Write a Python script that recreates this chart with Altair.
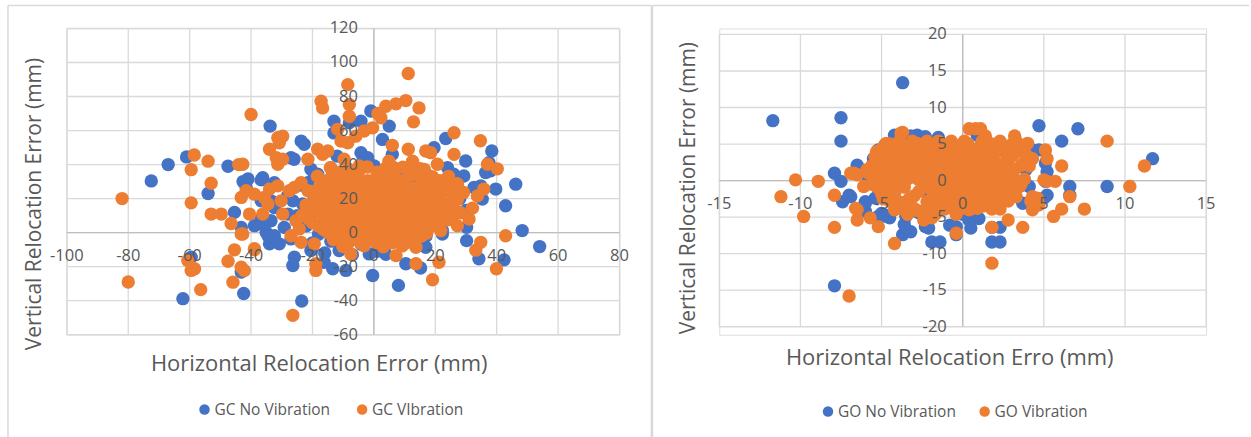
import altair as alt
import pandas as pd

FONT = "Open Sans"
TXT = "#595959"
GRID = "#d9d9d9"
AXIS = "#bfbfbf"
BLUE = "#4472C4"
ORANGE = "#ED7D31"
DOT = 180

# ---------------- GC panel data (mm) ----------------
gc_no_vibration = [
    (-72.5, 30.4), (-67, 40), (-61, 44.5), (-54, 23), (-47.5, 39), (-42.6, 30), (-41.6, 26.5),
    (-45.4, 11.9), (-43.2, 3.1), (-38.9, 4.1), (-36.7, 31), (-33.8, 62.6), (-23.7, 53.8),
    (-22.7, 51.9), (-27, 44), (-26, 43.1), (-20.5, 37.3), (-19.4, 33.3), (-18.3, 34.3),
    (-15, 30.4), (-21.5, 29.4), (-17.2, 26.5), (-41, 31.5), (-36.2, 32.3), (-32.4, 29.4),
    (-36.7, 18.7), (-33.5, 18.7), (-32.4, 14.8), (-26.4, 18.7), (-23.2, 16.8), (-19.4, 20.7),
    (-36.7, 8), (-33.5, 7), (-36.2, 5.1), (-35.1, 0.2), (-29.2, 3.1), (-28, 10.9), (-34, -6.6),
    (-30.8, -6.6), (-32.4, -1.8), (-34.5, -1.8), (-27, -3.7), (-20.5, -10.5), (-25.9, -14.4),
    (-26.4, -19.3), (-13.4, -21.2), (-9.1, -22.2), (-0.4, -25.2), (-23.5, -40.2), (-42.4, -35.8),
    (-62.2, -38.8), (-59.5, -14.4), (-43.2, -23.2), (-16.2, -17.4), (-11.3, -10.5), (-1.5, -12.5),
    (3.9, -12.7), (10.4, -18.3), (15.2, -20.8), (8, -31), (16.9, -8.6), (0.1, -4.7), (1.7, -6.6),
    (4.5, -3.7), (3.9, 0.2), (5.5, 4.1), (22.3, -0.8), (22.3, 1.2), (19.1, 10.9), (17.5, 14.8),
    (22.9, 24.6), (12, 26.5), (15.3, 28.5), (34.8, 27.5), (39.7, 25.6), (33.7, 25.6), (35.3, 19.7),
    (42.9, 15.8), (46.2, 28.5), (48.3, 1.2), (54, -8.2), (34.2, -15.4), (42.4, -16), (30.2, -4.7),
    (30.2, 3.1), (24, 38.2), (26, 34.3), (29.3, 33.3), (32.6, 26.5), (36.4, 35.3), (38, 36.3),
    (37.5, 41.1), (29.9, 42.1), (38.4, 48), (23.4, 55.3), (19.6, 49.9), (5, 62.6), (2.8, 54.8),
    (0.1, 39.2), (-13, 65.5), (-8, 64.5), (-4.2, 65.5), (-1, 71.5), (-13, 58.6), (-4.2, 47),
    (-3.6, 42.1),
    (-12, 45), (-2, 44), (6, 46), (-8, 35), (2, 34), (8, 36), (14, 33), (-24, 28), (-5, 29),
    (4, 27), (13, 29), (25, 27), (-28, 22), (-14, 21), (0, 23), (10, 21), (20, 22), (28, 20),
    (-20, 16), (-8, 15), (5, 17), (15, 16), (24, 15), (30, 13), (-25, 10), (-12, 9), (-3, 11),
    (8, 10), (18, 9), (26, 11), (-22, 4), (-16, 5), (-6, 3), (3, 5), (12, 4), (22, 6), (-18, -1),
    (-10, -2), (0, -1), (7, -1), (17, -2), (-20, -6), (-14, -5), (-4, -7), (5, -6), (11, -5),
    (-16, -12), (-7, -13), (1, -11),
]

gc_vibration = [
    (-82, 20), (-80, -29), (-59.5, 17.5), (-59.5, 37), (-58.5, 45.6), (-54, 42), (-53, 29),
    (-53, 10.9), (-49.7, 10.9), (-46.5, 5.4), (-43.2, -0.8), (-44, 40), (-42.7, 40.2), (-40, 69.4),
    (-43.2, 20.7), (-41.6, 24.6), (-40.5, 10.9), (-38.9, 22.6), (-35.7, 20.7), (-34.5, 16.8),
    (-34, 25.6), (-30.2, 18.7), (-29.7, 10.9), (-36.2, 10.9), (-31.3, 55.8), (-29.7, 56.7),
    (-30.8, 52.8), (-34, 49), (-31.8, 44), (-29.7, 43.1), (-31.3, 40.2), (-21.5, 43.1), (-18.3, 49),
    (-15, 48), (-16.7, 46), (-17.2, 77.2), (-16.7, 73.3), (-8.5, 87), (-8, 75.3), (-8, 68.4),
    (-11.8, 60.7), (-5.9, 56.7), (-3.2, 59.7), (-0.4, 61.6), (-14, 38.2), (-9.7, 43.1),
    (-10.7, 53.8), (-8.5, 52.8), (-10.7, 29.4), (-6.9, 32.3), (-4.8, 39.2), (-14, 32.3),
    (-13.4, 26.5), (-31.3, 27.5), (-25.9, 26.5), (-27.5, 24.6), (-23.7, 29.4), (-21.5, 24.6),
    (-25.4, 7), (-24.3, 2.2), (-22.7, 10.9), (-27, -1.8), (-23.7, -5.7), (-19.4, -6.6),
    (-38.9, -9.5), (-42.7, -0.8), (-45.4, -10.1), (-47.5, -16.8), (-38.9, -10.1), (-43.2, -20.3),
    (-42.2, -22.2), (-45.9, -29.1), (-60.6, -16.4), (-58.4, -21.2), (-59.5, -22.2), (-56.4, -33.5),
    (-26.4, -48.6), (-18.9, -22.2), (-18.9, -18.3), (-8.5, -6.6), (-7.5, -12.5), (7.2, -13.5),
    (13.7, -18.3), (13.7, -8.6), (21.2, -17.4), (19.1, -27.7), (39.9, -21.2), (42.9, -1.8),
    (33.2, -10.3), (34.8, -5.7), (31, 8), (32.1, 14.4), (27.2, 4.1), (25, 9), (25, 16.8),
    (21.8, 1.2), (22.3, 10.9), (19.6, 22.6), (21.2, 24.6), (16.9, 22.6), (18.5, 18.7),
    (33.7, 21.6), (35.8, 25.6), (12.6, 14.8), (13.1, 9), (11, 5.1), (11.5, -0.8), (9.8, -4.7),
    (11.2, 93.5), (10.4, 77.6), (7.2, 75.7), (3.9, 74.3), (14.7, 73.3), (12.9, 65.1), (1.3, 70),
    (2.3, 67.5), (6, 51.3), (26.1, 58.7), (34.7, 54), (37, 40.2), (40.2, 37.5), (26.1, 46),
    (11.2, 49), (16.9, 48), (18.5, 47), (20.7, 40.2), (12.6, 42), (27.2, 28.5), (16.4, 37.2),
    (18, 33.3), (4.9, 42), (6.5, 38.2),
    # dense centre
    (-14.2, 38.1), (-8.3, 37.4), (-2.1, 38.6), (3.8, 37.9), (9.4, 38.4), (15.1, 37.6),
    (-18.4, 33.2), (-11.3, 33.8), (-6.2, 32.9), (1.1, 33.4), (6.3, 32.6), (12.2, 33.7),
    (19.1, 32.8), (24.3, 33.1), (-16.1, 28.3), (-10.2, 27.6), (-4.3, 28.4), (0.2, 27.9),
    (5.2, 28.6), (10.1, 27.7), (16.3, 28.2), (21.2, 27.4), (27.1, 28.8), (-20.2, 24.1),
    (-13.1, 23.6), (-7.2, 24.4), (-1.1, 23.8), (3.3, 24.6), (8.2, 23.5), (13.1, 24.3),
    (18.2, 23.7), (23.3, 24.4), (29.2, 23.6), (-17.3, 20.2), (-12.1, 19.6), (-6.3, 20.4),
    (-2.2, 19.8), (2.1, 20.6), (7.3, 19.7), (11.2, 20.3), (15.1, 19.4), (20.3, 20.1), (27.2, 19.5),
    (-22.1, 16.3), (-15.2, 15.7), (-9.1, 16.4), (-4.2, 15.6), (0.3, 16.2), (5.1, 15.8), (9.2, 16.5),
    (14.3, 15.6), (18.1, 16.2), (23.2, 15.7), (-19.2, 12.1), (-13.3, 11.6), (-8.2, 12.4),
    (-3.1, 11.7), (2.2, 12.3), (6.1, 11.8), (10.3, 12.2), (16.2, 11.5), (20.1, 12.4), (28.2, 11.7),
    (-21.3, 8.2), (-16.1, 7.7), (-10.2, 8.4), (-5.1, 7.6), (-1.2, 8.3), (3.1, 7.8), (8.2, 8.1),
    (12.1, 7.5), (18.2, 8.3), (24.1, 7.6), (-18.2, 4.1), (-12.1, 3.7), (-7.3, 4.4), (-2.1, 3.6),
    (2.2, 4.2), (6.3, 3.8), (10.1, 4.3), (15.2, 3.6), (19.1, 4.2), (-15.1, 0.2), (-9.2, -0.3),
    (-4.1, 0.4), (1.2, -0.2), (5.1, 0.3), (9.3, -0.4), (14.1, 0.2), (17.2, -0.3), (-13.2, -4.1),
    (-6.1, -3.7), (-1.2, -4.3), (4.1, -3.8), (8.2, -4.2), (12.3, -3.6), (-10.1, -8.2),
    (-3.2, -7.7), (3.1, -8.3), (9.2, -7.8),
    (-11, 35.5), (-5, 35.5), (1, 35.5), (6.5, 35.5), (12, 35.5),
    (-14.5, 30.5), (-8.5, 30.5), (-2, 30.5), (3.5, 30.5), (9, 30.5), (15.5, 30.5), (21.5, 30.5),
    (-18, 26), (-12.5, 26), (-6, 26), (-2.5, 26), (2.5, 26), (7.5, 26), (13, 26), (19, 26), (24.5, 26),
    (-15.5, 22), (-10, 22), (-4, 22), (0.5, 22), (5.5, 22), (10.5, 22), (16, 22), (21.5, 22), (26, 22),
    (-19.5, 18), (-14, 18), (-7.5, 18), (-1, 18), (3.5, 18), (8.5, 18), (13, 18), (17.5, 18),
    (22, 18), (25.5, 18),
    (-17, 14), (-11, 14), (-6, 14), (-1.5, 14), (3.5, 14), (8, 14), (12, 14), (16.5, 14),
    (21.5, 14), (26, 14),
    (-23.5, 10), (-15, 10), (-7, 10), (-2.5, 10), (0.5, 10), (5, 10), (9.5, 10), (14.5, 10),
    (19, 10), (23, 10),
    (-20, 6), (-14, 6), (-9, 6), (-4, 6), (0.5, 6), (4.5, 6), (8.5, 6), (13.5, 6), (17, 6), (21.5, 6),
    (-16.5, 2), (-11, 2), (-6, 2), (-0.5, 2), (3.5, 2), (7.5, 2), (12, 2), (16.5, 2),
    (-11.5, -2), (-7.5, -2), (-3, -2), (2.5, -2), (6.5, -2), (10.5, -2), (15.5, -2),
    (-8.5, -6), (-4.5, -6), (1, -6), (6, -6), (10.5, -6),
]

gc_x_ticks = [-100, -80, -60, -40, -20, 0, 20, 40, 60, 80]
gc_y_ticks = [-60, -40, -20, 0, 20, 40, 60, 80, 100, 120]

# ---------------- GO panel data (mm) ----------------
go_no_vibration = [
    (-11.7, 8.2), (-7.5, 8.6), (-7.5, 5.4), (-3.7, 13.4), (-6.5, 2.1), (-7.9, 1), (-7.5, -0.1),
    (-7.4, -2.9), (-7, -2), (-6.9, -2.2), (-6, -2.9), (-5.4, -2.4), (-5.2, 4.2), (-4.2, 6.2),
    (-2.8, 6.2), (-2.3, 6), (-7.9, -14.4), (-6, -4.2), (-5.2, -4.9), (-4.7, -4.9), (-6, -3.1),
    (-4.8, -4.7), (-4.5, -5.1), (-3.7, -7.4), (-3.2, -7), (-2.3, -6.3), (-1.9, -8.4), (-1.4, -8.4),
    (-0.4, -7.4), (-0.4, -6.3), (-3.5, -4.9), (-3.2, -4.2), (0.5, -6.5), (1, -5.2), (0.4, -5.4),
    (-2.1, -6.5), (1.8, -6.4), (2.3, -6.4), (1.8, -8.4), (2.3, -8.4), (4.7, 7.5), (7.1, 7.1),
    (6.1, 5.4), (11.7, 3), (8.9, -0.8), (6.6, -0.8), (6.6, -2), (5.1, 2.4), (5.2, 1.2),
    (5.1, -0.1), (4.3, 4.2), (4.7, 4.2), (5.2, -2), (4.4, -3.6), (3.7, -3.1), (5, -2.4),
    (3.6, -0.1), (4.1, -0.8),
    (-3.2, 6.1), (-1.5, 5.9), (0.9, 6.2), (-4, 4.5), (-1, 4.4), (2, 4.6), (3.5, 4.5),
    (-5.5, 3), (-2.5, 3.1), (0.5, 2.9), (2.8, 3), (-4.5, 1.5), (-1.8, 1.6), (1.2, 1.4),
    (3.9, 1.5), (-5.8, 0), (-3.5, 0.1), (-0.8, -0.1), (2.2, 0), (-4.8, -1.5), (-2.3, -1.4),
    (0.6, -1.6), (3, -1.5), (-3.9, -3), (-1.3, -3.1), (1.5, -2.9), (-5, -4.5), (-2.7, -4.4),
    (0, -4.6), (-3.6, -6), (-0.8, -6.1),
]

go_vibration = [
    (-3.7, 6.6), (-10.3, 0.1), (-8.9, -0.1), (-11.2, -2.2), (-7.9, -2), (-6.9, 1), (-6.5, 0.8),
    (-6.1, -0.8), (-5.6, 1), (-5.2, 0.8), (-5, 3), (-4.7, 5.1), (-9.8, -4.9), (-7.9, -6.4),
    (-6.5, -5.4), (-6.5, -4), (-5.7, -5.1), (-5.2, -6.3), (-4.2, -8.6), (-2.4, -5.4), (-1.9, -5.1),
    (-7, -15.8), (-6.6, -3.8), (-6.7, 1), (-5.8, 1), (-4.8, 4.9), (-3.8, 6.5), (0.4, 7.1),
    (-0.4, -7.2), (8.9, 5.4), (11.2, 2), (10.3, -0.8), (6.1, 2), (6.6, -2.2), (7.5, -3.9),
    (6.1, -3.9), (5.6, -4.9), (3.7, -6.4), (2.8, -5.4), (1.8, -6.4), (1.8, -11.3), (2.3, -3.9),
    (1.8, -3.9), (4.2, -2.8), (4.7, -3.3), (4.3, -4), (3.2, 6.1), (0.8, 7.1), (1.1, 7.1),
    (1.4, 6.1), (5.1, 4.2), (5.2, 3), (5.2, -0.1), (5.7, -0.1), (5, 0.1), (4.3, -2.2), (4.1, 2),
    (3.3, -2.2), (3.1, -1.5), (2.7, -2.4), (4.6, -2.4),
    # dense centre
    (-4.5, 5), (-2.8, 5.1), (-1.2, 4.9), (0.3, 5.1), (1.8, 5), (3, 4.9), (4, 5.1),
    (-5.3, 4), (-3.6, 4.1), (-2, 3.9), (-0.4, 4.1), (1.2, 3.9), (2.4, 4.1), (3.4, 4),
    (-4.8, 3), (-3.1, 2.9), (-1.5, 3.1), (0, 3), (1.6, 2.9), (2.9, 3.1), (4.3, 3),
    (-5.6, 2), (-4, 2.1), (-2.4, 1.9), (-0.9, 2.1), (0.7, 2), (2.1, 1.9), (3.6, 2.1),
    (-5, 1), (-3.4, 1.1), (-1.8, 0.9), (-0.2, 1.1), (1.3, 1), (2.7, 0.9),
    (-4.3, 0), (-2.7, 0.1), (-1.1, -0.1), (0.5, 0), (2, 0.1), (3.3, -0.1),
    (-5.2, -1), (-3.6, -0.9), (-2, -1.1), (-0.5, -1), (1, -0.9), (2.5, -1.1),
    (-4.6, -2), (-3, -2.1), (-1.4, -1.9), (0.2, -2), (1.6, -2.1),
    (-3.8, -3), (-2.2, -2.9), (-0.7, -3.1), (0.9, -3), (2.3, -2.9),
    (-4.2, -4), (-2.8, -4.1), (-1.1, -3.9), (0.4, -4),
    (-3.7, 4.5), (-2.1, 4.5), (-0.5, 4.5), (1, 4.5), (2.6, 4.5),
    (-4.4, 3.5), (-2.8, 3.5), (-1.2, 3.5), (0.4, 3.5), (1.9, 3.5), (3.1, 3.5),
    (-5.2, 2.5), (-3.6, 2.5), (-2, 2.5), (-0.4, 2.5), (1.2, 2.5), (2.6, 2.5), (3.8, 2.5),
    (-5.9, 1.5), (-4.3, 1.5), (-2.7, 1.5), (-1.1, 1.5), (0.4, 1.5), (1.9, 1.5), (3.2, 1.5),
    (-4.6, 0.5), (-3, 0.5), (-1.4, 0.5), (0.2, 0.5), (1.7, 0.5), (3, 0.5),
    (-5.6, -0.5), (-3.9, -0.5), (-2.3, -0.5), (-0.8, -0.5), (0.7, -0.5), (2.2, -0.5), (3.6, -0.5),
    (-4.3, -1.5), (-2.7, -1.5), (-1.1, -1.5), (0.5, -1.5), (2, -1.5),
    (-4.9, -2.5), (-3.3, -2.5), (-1.8, -2.5), (-0.2, -2.5), (1.3, -2.5),
    (-3.4, -3.5), (-1.9, -3.5), (-0.3, -3.5), (1.2, -3.5),
    (-3.9, 5.4), (-3.1, 5.4), (-2.2, 5.4), (-1.5, 5.4), (-0.7, 5.4), (0.1, 5.4), (1.2, 5.4),
    (2.3, 5.4), (3.3, 5.4),
    (-5.0, 4.3), (-4.1, 4.3), (-3.3, 4.3), (-2.5, 4.3), (-1.7, 4.3), (-0.9, 4.3), (-0.1, 4.3),
    (0.7, 4.3), (1.5, 4.3), (2.2, 4.3), (3.0, 4.3), (3.8, 4.3),
    (-5.4, 3.3), (-4.6, 3.3), (-3.8, 3.3), (-3.0, 3.3), (-2.3, 3.3), (-1.4, 3.3), (-0.6, 3.3),
    (0.2, 3.3), (1.0, 3.3), (1.8, 3.3), (4.0, 3.3),
    (-5.1, 2.3), (-4.3, 2.3), (-3.5, 2.3), (-2.7, 2.3), (-1.9, 2.3), (-1.1, 2.3), (-0.3, 2.3),
    (0.5, 2.3), (1.3, 2.3), (2.1, 2.3),
    (-5.6, 1.2), (-4.7, 1.2), (-3.9, 1.2), (-3.1, 1.2), (-2.3, 1.2), (-1.5, 1.2), (-0.7, 1.2),
    (0.1, 1.2), (0.9, 1.2), (1.7, 1.2), (2.5, 1.2),
    (-5.0, 0.2), (-4.2, 0.2), (-3.4, 0.2), (-2.6, 0.2), (-1.8, 0.2), (-1.0, 0.2), (-0.2, 0.2),
    (0.6, 0.2), (1.4, 0.2), (2.2, 0.2), (3.0, 0.2), (3.8, 0.2),
    (-5.3, -0.8), (-4.5, -0.8), (-2.1, -0.8), (-1.3, -0.8), (-0.5, -0.8), (0.3, -0.8), (1.1, -0.8),
    (1.9, -0.8), (2.7, -0.8), (3.5, -0.8),
    (-5.0, -1.8), (-4.2, -1.8), (-1.8, -1.8), (-1.0, -1.8), (-0.2, -1.8), (0.6, -1.8), (1.4, -1.8),
    (2.2, -1.8), (3.2, -1.8),
    (-4.5, -2.8), (-2.1, -2.8), (-1.3, -2.8), (-0.5, -2.8), (0.3, -2.8), (1.1, -2.8), (1.9, -2.8),
    (2.8, -2.8),
    (-3.8, -3.8), (-3.0, -3.8), (-2.2, -3.8), (-1.4, -3.8), (-0.6, -3.8), (0.2, -3.8), (0.9, -3.8),
    (-3.4, -4.6), (-1.7, -4.6), (-0.4, -4.6),
]

go_x_ticks = [-15, -10, -5, 0, 5, 10, 15]
go_y_ticks = [-20, -15, -10, -5, 0, 5, 10, 15, 20]


def points_frame(pairs):
    return pd.DataFrame(pairs, columns=["x", "y"])


def tick_frame(values):
    return pd.DataFrame({"v": values, "zero": [0] * len(values),
                         "lab": [str(v) for v in values]})


def text_layer(text, x, y, size, angle=0, align="center"):
    return alt.Chart(pd.DataFrame({"t": [text]})).mark_text(
        font=FONT, fontSize=size, color=TXT, angle=angle, align=align, baseline="middle"
    ).encode(x=alt.value(x), y=alt.value(y), text="t:N")


def frame_line(x, x2, y, y2):
    return alt.Chart(pd.DataFrame({"k": [0]})).mark_rule(
        color=GRID, strokeWidth=1.5
    ).encode(x=alt.value(x), x2=alt.value(x2), y=alt.value(y), y2=alt.value(y2))


def panel(series_a, series_b, names, x_ticks, y_ticks, W, y_top, y_bot,
          xtitle, xt_pos, ytitle, yt_pos, legend_pos, borders):
    xs = alt.Scale(domain=[x_ticks[0], x_ticks[-1]], nice=False, zero=False, range=[0, W])
    ys = alt.Scale(domain=[y_ticks[0], y_ticks[-1]], nice=False, zero=False, range=[y_bot, y_top])
    X = lambda f: alt.X(f, scale=xs, axis=None)
    Y = lambda f: alt.Y(f, scale=ys, axis=None)
    gx, gy = tick_frame(x_ticks), tick_frame(y_ticks)

    grid_v = alt.Chart(gx).mark_rule(color=GRID, strokeWidth=1.3).encode(
        x=X("v:Q"), y=alt.value(y_top), y2=alt.value(y_bot))
    grid_h = alt.Chart(gy).mark_rule(color=GRID, strokeWidth=1.3).encode(
        y=Y("v:Q"), x=alt.value(0), x2=alt.value(W))
    zero = pd.DataFrame({"v": [0]})
    axis_h = alt.Chart(zero).mark_rule(color=AXIS, strokeWidth=1.4).encode(
        y=Y("v:Q"), x=alt.value(0), x2=alt.value(W))
    axis_v = alt.Chart(zero).mark_rule(color=AXIS, strokeWidth=1.4).encode(
        x=X("v:Q"), y=alt.value(y_top), y2=alt.value(y_bot))

    dots_a = alt.Chart(points_frame(series_a)).mark_circle(size=DOT, opacity=1, color=BLUE).encode(
        x=X("x:Q"), y=Y("y:Q"))
    dots_b = alt.Chart(points_frame(series_b)).mark_circle(size=DOT, opacity=1, color=ORANGE).encode(
        x=X("x:Q"), y=Y("y:Q"))

    xlab = alt.Chart(gx).mark_text(font=FONT, fontSize=16.5, color=TXT, dy=23, baseline="middle").encode(
        x=X("v:Q"), y=Y("zero:Q"), text="lab:N")
    ylab = alt.Chart(gy).mark_text(font=FONT, fontSize=16.5, color=TXT, dx=-16, align="right",
                                   baseline="middle").encode(
        x=X("zero:Q"), y=Y("v:Q"), text="lab:N")

    (ax, ay), (bx, by) = legend_pos
    leg_a = alt.Chart(pd.DataFrame({"k": [0]})).mark_circle(size=110, opacity=1, color=BLUE).encode(
        x=alt.value(ax), y=alt.value(ay))
    leg_b = alt.Chart(pd.DataFrame({"k": [0]})).mark_circle(size=110, opacity=1, color=ORANGE).encode(
        x=alt.value(bx), y=alt.value(by))
    leg_ta = text_layer(names[0], ax + 10, ay, 15.5, align="left")
    leg_tb = text_layer(names[1], bx + 10, by, 15.5, align="left")

    xt = text_layer(xtitle, xt_pos[0], xt_pos[1], 22)
    yt = text_layer(ytitle, yt_pos[0], yt_pos[1], 21, angle=270)

    frames = [frame_line(*b) for b in borders]
    return alt.layer(
        *frames, grid_v, grid_h, axis_h, axis_v, dots_a, dots_b, xlab, ylab,
        leg_a, leg_b, leg_ta, leg_tb, xt, yt
    ).properties(width=W, height=307)


left = panel(
    gc_no_vibration, gc_vibration, ["GC No Vibration", "GC VIbration"],
    gc_x_ticks, gc_y_ticks, 554, 0, 307,
    "Horizontal Relocation Error (mm)", (253, 336),
    "Vertical Relocation Error (mm)", (-32, 176),
    ((138, 382), (296, 382)),
    [(-59, -59, -23, 410), (586, 586, -23, 410), (-59, 586, -23, -23)],
)

right = panel(
    go_no_vibration, go_vibration, ["GO No Vibration", "GO Vibration"],
    go_x_ticks, go_y_ticks, 488, 6, 299,
    "Horizontal Relocation Erro (mm)", (231, 330),
    "Vertical Relocation Error (mm)", (-30, 160),
    ((109, 384), (266, 384)),
    [(-67, -67, -23, 410), (-67, 531, -23, -23)],
)

chart = alt.hconcat(left, right, spacing=100, bounds="flush").properties(
    padding={"left": 6, "top": 3, "right": 0, "bottom": 0}
).configure_view(stroke=None).configure(background="white")

chart.save("out.html", embed_options={"renderer": "svg", "actions": False})
